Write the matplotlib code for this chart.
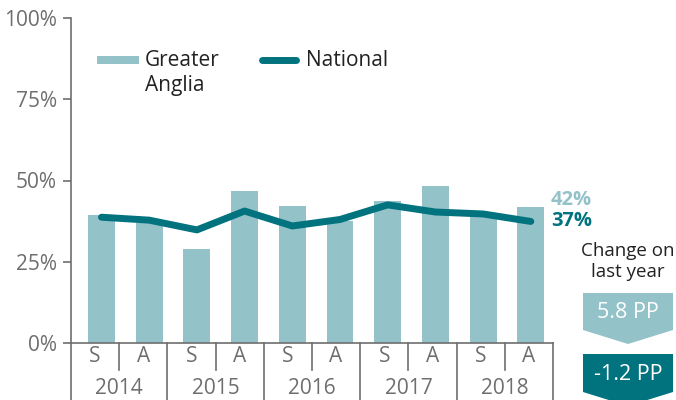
import matplotlib
matplotlib.use("Agg")
import matplotlib.pyplot as plt
from matplotlib.patches import Polygon, Rectangle
from matplotlib.lines import Line2D
import matplotlib.transforms as mtransforms

plt.rcParams['font.family'] = ['Open Sans', 'DejaVu Sans']

# Data
years = ["2014", "2015", "2016", "2017", "2018"]
periods = ["S", "A"]
greater_anglia = [39.4, 36.9, 28.9, 46.8, 42.2, 37.5, 43.7, 48.3, 39.0, 42.0]
national = [38.7, 37.8, 34.8, 40.6, 36.0, 38.0, 42.5, 40.3, 39.7, 37.4]
change_ga = "5.8 PP"
change_nat = "-1.2 PP"

LIGHT = "#94C2C9"
DARK = "#00737E"
GREY = "#6E6E6E"
TEXT = "#222222"

W, H = 676, 400
fig = plt.figure(figsize=(W / 100, H / 100), dpi=100)


def fx(px):
    return px / W


def fy(py):
    return 1 - py / H


ax_left, ax_right = 71, 553
ax = fig.add_axes([fx(ax_left), fy(343), fx(ax_right) - fx(ax_left),
                   fy(18) - fy(343)])
n = len(greater_anglia)
x = [i + 0.5 for i in range(n)]

ax.bar(x, greater_anglia, width=0.566, color=LIGHT, zorder=2)
ax.plot(x, national, color=DARK, lw=5, solid_capstyle="round",
        solid_joinstyle="round", zorder=3)

# bar spacing is a touch narrower than the category band below the axis
step = 47.7
xmin = 0.5 - (101.5 - ax_left) / step
ax.set_xlim(xmin, xmin + (ax_right - ax_left) / step)
ax.set_ylim(0, 100)
ax.set_yticks([0, 25, 50, 75, 100])
ax.set_yticklabels([f"{v}%" for v in [0, 25, 50, 75, 100]])
ax.tick_params(axis="y", colors=GREY, labelcolor=GREY, labelsize=15,
               length=6, width=1.2, pad=4)
ax.set_xticks([])
for s in ["top", "right"]:
    ax.spines[s].set_visible(False)
for s in ["left", "bottom"]:
    ax.spines[s].set_color(GREY)
    ax.spines[s].set_linewidth(1.2)

# Category band: period labels, year labels and separators
y_short = -27 / 325
y_long = -60 / 325
for i in range(n + 1):
    xf = i / n
    yb = y_long if i % 2 == 0 else y_short
    ax.plot([xf, xf], [0, yb], color=GREY, lw=1.2, transform=ax.transAxes,
            clip_on=False)
for i in range(n):
    ax.text((i + 0.5) / n, -14 / 325, periods[i % 2], transform=ax.transAxes,
            ha="center", va="center", fontsize=15, color=GREY)
for j, yr in enumerate(years):
    ax.text((2 * j + 1) / n, -45 / 325, yr, transform=ax.transAxes,
            ha="center", va="center", fontsize=15, color=GREY)

# Legend
fig.add_artist(Rectangle((fx(97), fy(64)), fx(139) - fx(97), fy(56) - fy(64),
                         transform=fig.transFigure, color=LIGHT, lw=0))
fig.text(fx(145), fy(60), "Greater", fontsize=15, color=TEXT, va="center")
fig.text(fx(145), fy(85), "Anglia", fontsize=15, color=TEXT, va="center")
fig.add_artist(Line2D([fx(262), fx(296)], [fy(60), fy(60)],
                      transform=fig.transFigure, color=DARK, lw=5,
                      solid_capstyle="round"))
fig.text(fx(306), fy(60), "National", fontsize=15, color=TEXT, va="center")

# End labels
fig.text(fx(551), fy(200), f"{round(greater_anglia[-1])}%", fontsize=14.5,
         fontweight="bold", color=LIGHT, va="center")
fig.text(fx(551), fy(221), f"{round(national[-1])}%", fontsize=14.5,
         fontweight="bold", color=DARK, va="center")

# Change on last year
fig.text(fx(628), fy(251), "Change on", fontsize=13.5, color=TEXT,
         ha="center", va="center")
fig.text(fx(628), fy(272), "last year", fontsize=13.5, color=TEXT,
         ha="center", va="center")

light_pts = [(583, 293), (673, 293), (673, 330), (628, 344), (583, 330)]
fig.add_artist(Polygon([(fx(a), fy(b)) for a, b in light_pts], closed=True,
                       transform=fig.transFigure, color=LIGHT, lw=0))
fig.text(fx(628), fy(313), change_ga, fontsize=15.5, color="white",
         ha="center", va="center")

dark_pts = [(583, 354), (673, 354), (673, 392), (628, 406), (583, 392)]
fig.add_artist(Polygon([(fx(a), fy(b)) for a, b in dark_pts], closed=True,
                       transform=fig.transFigure, color=DARK, lw=0))
fig.text(fx(628), fy(374), change_nat, fontsize=15.5, color="white",
         ha="center", va="center")

fig.savefig("out.png", dpi=100)
